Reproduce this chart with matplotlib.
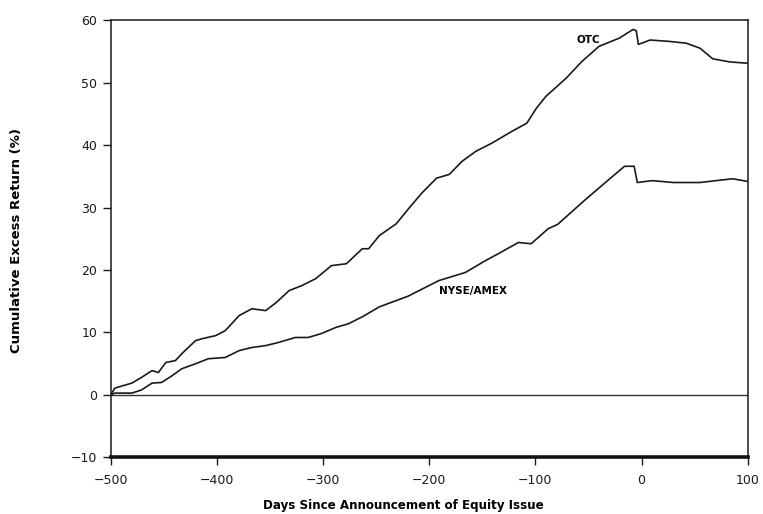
import matplotlib.pyplot as plt

# Cumulative excess returns
otc_days = [-500, -496, -480, -471, -461, -455, -448, -439, -433, -420, -414, -401, -392,
            -379, -367, -354, -344, -332, -320, -307, -292, -278, -263, -257, -247, -231,
            -219, -207, -193, -181, -169, -156, -141, -122, -108, -99, -90, -71, -56, -40,
            -21, -8, -5, -3, 8, 25, 42, 55, 67, 83, 99]
otc_ret = [0.0, 1.1, 1.9, 2.8, 3.9, 3.6, 5.2, 5.5, 6.6, 8.7, 9.0, 9.5, 10.3,
           12.7, 13.8, 13.5, 14.8, 16.7, 17.5, 18.6, 20.7, 21.0, 23.4, 23.4, 25.5, 27.4,
           29.9, 32.3, 34.7, 35.3, 37.4, 39.0, 40.3, 42.2, 43.5, 45.9, 47.8, 50.7, 53.4, 55.8,
           57.1, 58.5, 58.3, 56.1, 56.8, 56.6, 56.3, 55.5, 53.8, 53.3, 53.1]

nyse_days = [-500, -496, -480, -471, -461, -452, -442, -433, -420, -408, -392, -379, -367,
             -354, -342, -326, -314, -302, -288, -276, -262, -247, -220, -191, -166, -147,
             -135, -116, -104, -88, -79, -54, -32, -16, -7, -4, 10, 30, 55, 70, 86, 99]
nyse_ret = [0.0, 0.3, 0.3, 0.8, 1.9, 2.0, 3.1, 4.2, 5.0, 5.8, 6.0, 7.1, 7.6,
            7.9, 8.4, 9.2, 9.2, 9.8, 10.8, 11.4, 12.6, 14.1, 15.8, 18.3, 19.6, 21.5,
            22.6, 24.4, 24.2, 26.6, 27.3, 31.1, 34.3, 36.6, 36.6, 34.0, 34.3, 34.0, 34.0, 34.3, 34.6, 34.2]

xticks = [-500, -400, -300, -200, -100, 0, 100]
yticks = [-10, 0, 10, 20, 30, 40, 50, 60]

fig = plt.figure(figsize=(7.63, 5.14), dpi=100)
ax = fig.add_axes([0.145, 0.110, 0.835, 0.851])

ax.plot(otc_days, otc_ret, color='#1a1a1a', linewidth=1.2)
ax.plot(nyse_days, nyse_ret, color='#1a1a1a', linewidth=1.2)

# zero reference line
ax.axhline(0, color='#333333', linewidth=1.0)

ax.text(-39, 56.8, 'OTC', ha='right', va='center', fontsize=7.5, fontweight='bold')
ax.text(-191, 16.6, 'NYSE/AMEX', ha='left', va='center', fontsize=7.5, fontweight='bold')

ax.set_xlim(-500, 100)
ax.set_ylim(-10, 60)
ax.set_xticks(xticks)
ax.set_yticks(yticks)
ax.set_xticklabels(['\u2212' + str(-t) if t < 0 else str(t) for t in xticks])
ax.set_yticklabels(['\u2212' + str(-t) if t < 0 else str(t) for t in yticks])
ax.tick_params(axis='both', direction='out', length=6, width=1.0, labelsize=9, colors='#1a1a1a')
ax.tick_params(axis='x', pad=6)

for side in ['top', 'right', 'left']:
    ax.spines[side].set_linewidth(1.1)
    ax.spines[side].set_color('#1a1a1a')
ax.spines['bottom'].set_linewidth(2.6)
ax.spines['bottom'].set_color('#111111')

ax.set_xlabel('Days Since Announcement of Equity Issue', fontsize=8.6, fontweight='bold')
ax.set_ylabel('Cumulative Excess Return (%)', fontsize=9.5, fontweight='bold')
ax.xaxis.set_label_coords(0.46, -0.095)
ax.yaxis.set_label_coords(-0.1375, 0.495)

fig.savefig('out.png', dpi=100)
